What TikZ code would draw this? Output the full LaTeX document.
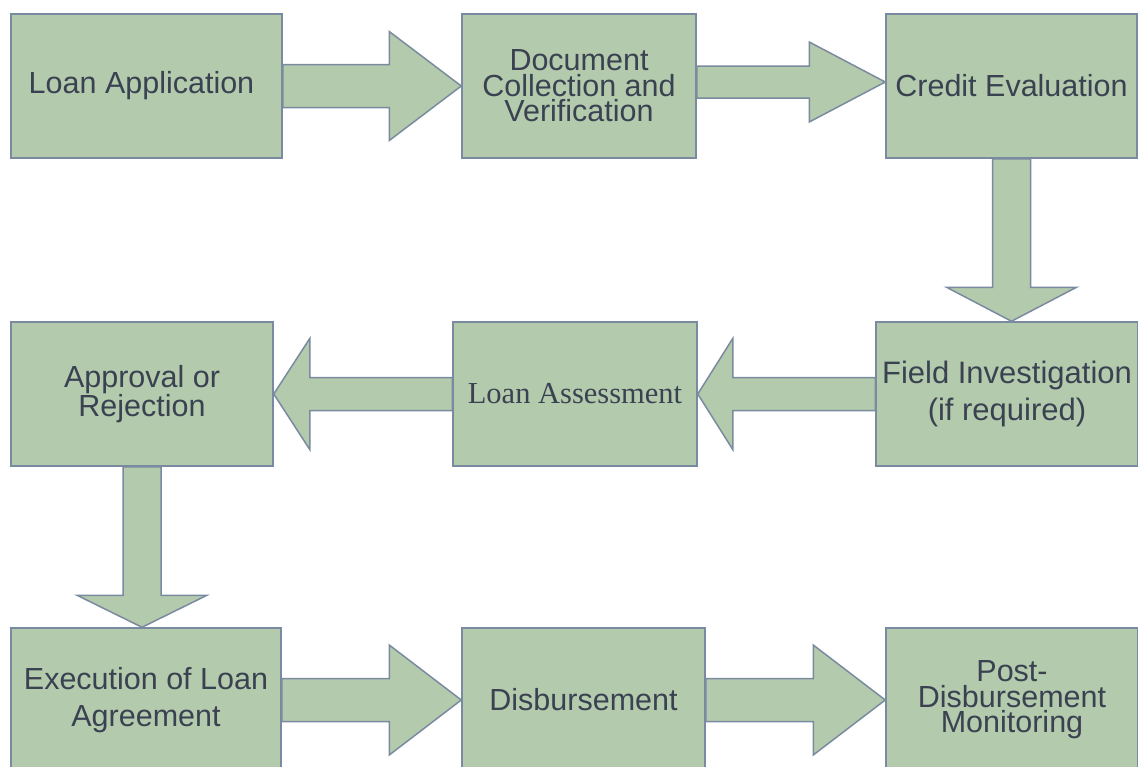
\documentclass[tikz,border=0pt]{standalone}
\usepackage{fontspec}
\setmainfont{Liberation Sans}
\newfontfamily\timesfont{Liberation Serif}
\usetikzlibrary{calc}
\definecolor{boxfill}{RGB}{180,202,172}
\definecolor{boxline}{RGB}{122,138,160}
\definecolor{txt}{RGB}{58,66,82}
\tikzset{
  procbox/.style={draw=boxline, fill=boxfill, line width=1.5pt, inner sep=0pt,
    align=center, text=txt, font=\fontsize{30.5}{25.5}\selectfont, minimum height=144pt},
  loosetext/.style={font=\fontsize{30.5}{37}\selectfont},
  blockarrow/.style={draw=boxline, fill=boxfill, line width=1.5pt, line join=miter}
}
\newcommand{\blkarrow}[5]{%
  \coordinate (hb) at ($(#2)!#5!(#1)$);
  \draw[blockarrow] ($(#1)!#3!90:(#2)$) -- ($(hb)!#3!90:(#2)$) -- ($(hb)!#4!90:(#2)$)
    -- (#2) -- ($(hb)!#4!-90:(#2)$) -- ($(hb)!#3!-90:(#2)$) -- ($(#1)!#3!-90:(#2)$) -- cycle;}
\begin{document}
\begin{tikzpicture}[x=1pt,y=-1pt]
\useasboundingbox (0,0) rectangle (1138,766);
\clip (0,0) rectangle (1138,766);
% row 1
\node[procbox, minimum width=271pt] (la) at (146.5,86) {Loan Application\hspace*{10pt}};
\node[procbox, minimum width=234pt] (dc) at (579,86) {Document\\Collection and\\Verification};
\node[procbox, minimum width=251pt] (ce) at (1011.5,86) {Credit Evaluation};
% row 2
\node[procbox, minimum width=262pt] (ap) at (142,394) {Approval or\\Rejection};
\node[procbox, minimum width=244pt] (las) at (575,394) {\timesfont Loan Assessment};
\node[procbox, loosetext, minimum width=262pt, font=\fontsize{31}{37}\selectfont] (fi) at (1007,394) {Field Investigation\\(if required)};
% row 3
\node[procbox, loosetext, minimum width=270pt] (ex) at (146,700) {Execution of Loan\\Agreement};
\node[procbox, minimum width=243pt] (ds) at (583.5,700) {Disbursement};
\node[procbox, minimum width=252pt] (pd) at (1012,700) {Post-\\Disbursement\\Monitoring};
% arrows
\blkarrow{la.east}{dc.west}{21.5pt}{54.5pt}{72pt}
\coordinate (a2t) at ($(dc.east)+(0,-4)$);
\coordinate (a2p) at ($(ce.west)+(0,-4)$);
\blkarrow{a2t}{a2p}{16pt}{40pt}{76pt}
\coordinate (v1p) at (ce.south |- fi.north);
\blkarrow{ce.south}{v1p}{19pt}{65pt}{34pt}
\blkarrow{fi.west}{las.east}{16.5pt}{55.5pt}{35pt}
\blkarrow{las.west}{ap.east}{16.5pt}{55.5pt}{36pt}
\coordinate (v2p) at (ap.south |- ex.north);
\blkarrow{ap.south}{v2p}{19pt}{65pt}{32pt}
\blkarrow{ex.east}{ds.west}{21.5pt}{55pt}{72pt}
\blkarrow{ds.east}{pd.west}{21.5pt}{55pt}{72pt}
\end{tikzpicture}
\end{document}
